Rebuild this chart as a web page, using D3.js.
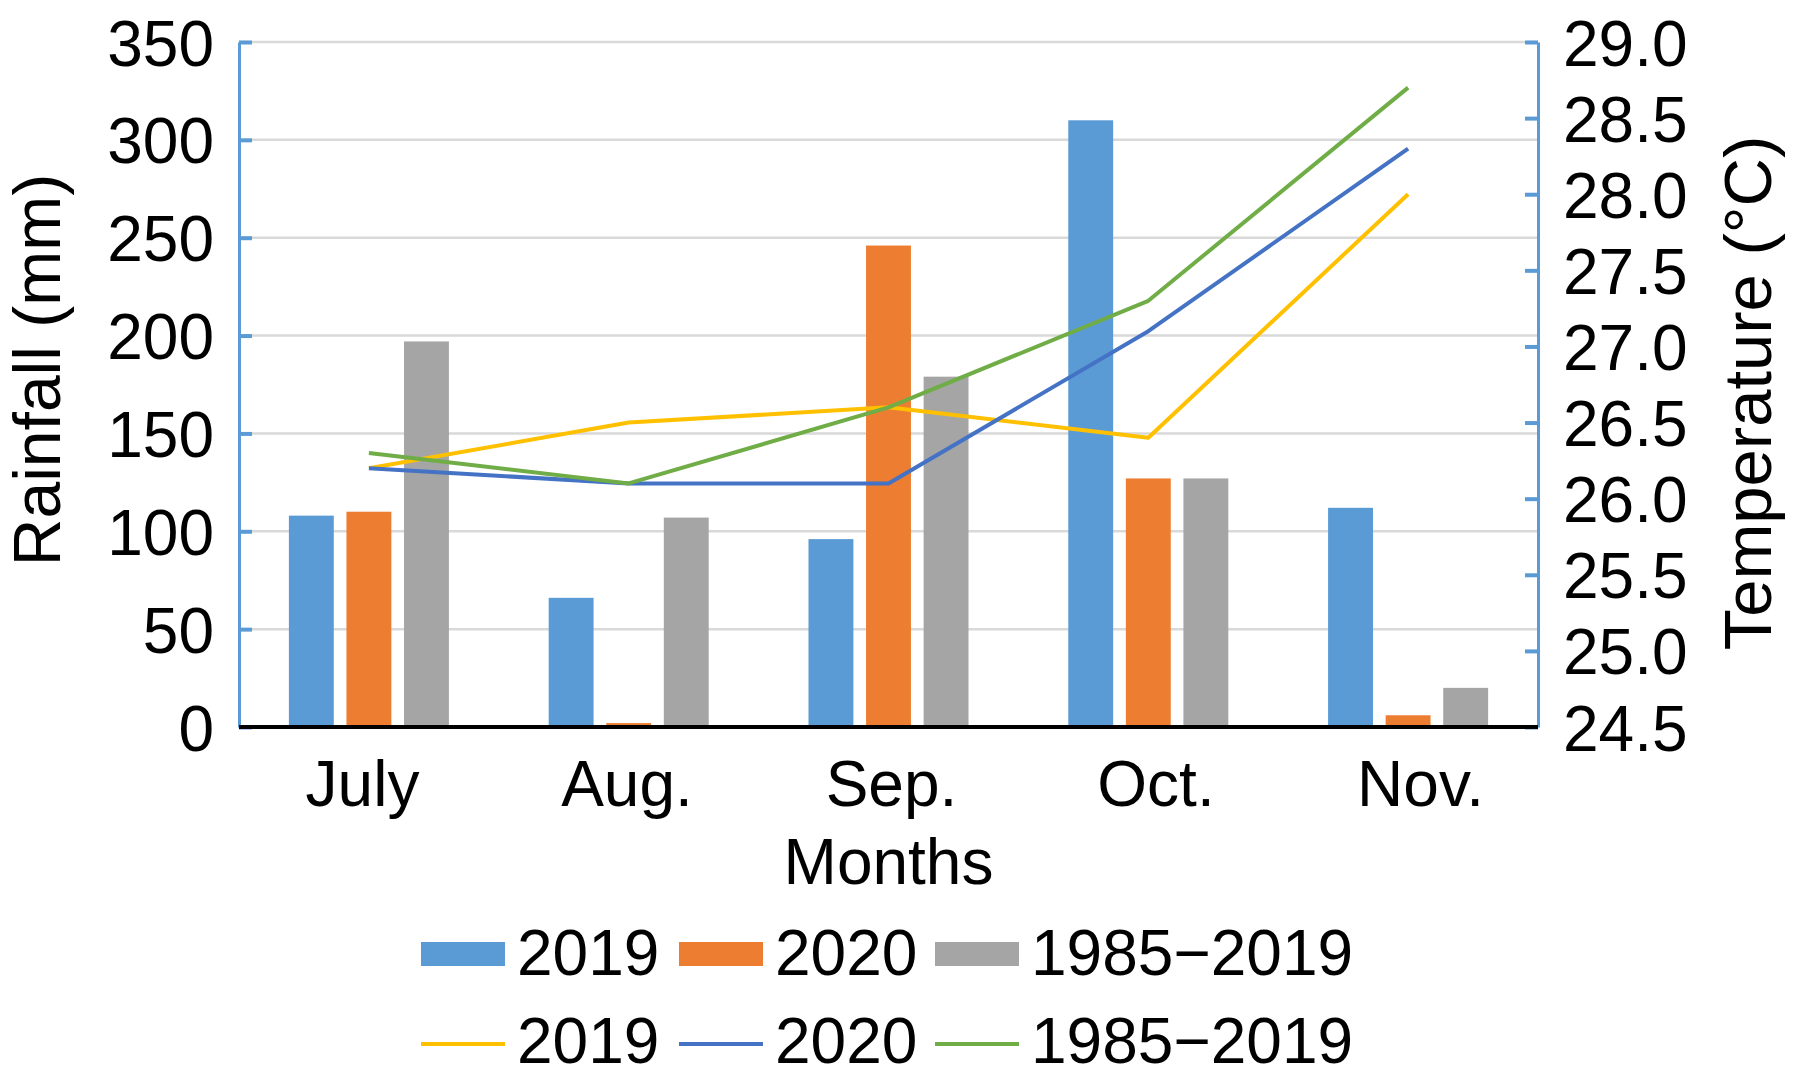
<html>
<script src='https://d3js.org/d3.v7.min.js'></script>
<style>
body { margin: 0; background: #fff; }
svg text { font-family: "Liberation Sans", Arial, sans-serif; fill: #000; }
</style>
<body>
<svg width="1795" height="1087" id="chart"></svg>
<script>
var months = ["July", "Aug.", "Sep.", "Oct.", "Nov."];
var rain2019 = [108, 66, 96, 310, 112];
var rain2020 = [110, 2, 246, 127, 6];
var rainAvg = [197, 107, 179, 127, 20];
var temp2019 = [26.2, 26.5, 26.6, 26.4, 28.0];
var temp2020 = [26.2, 26.1, 26.1, 27.1, 28.3];
var tempAvg = [26.3, 26.1, 26.6, 27.3, 28.7];
var rainTicks = [0, 50, 100, 150, 200, 250, 300, 350];
var tempTicks = [24.5, 25.0, 25.5, 26.0, 26.5, 27.0, 27.5, 28.0, 28.5, 29.0];
var legendNames = ["2019", "2020", "1985\u22122019"];

var barColors = ["#5b9bd5", "#ed7d31", "#a5a5a5"];
var lineColors = ["#ffc000", "#4472c4", "#70ad47"];
var bars = [rain2019, rain2020, rainAvg];
var lines = [temp2019, temp2020, tempAvg];

var L = 239, R = 1538, T = 42, B = 727;
var svg = d3.select("#chart");

var x0 = d3.scaleBand().domain(months).range([L, R]).paddingInner(0.384).paddingOuter(0.192);
var x1 = d3.scaleBand().domain([0, 1, 2]).range([0, x0.bandwidth()]).paddingInner(0.22);
// category labels sit a little wider apart than the bar groups in the original
var xLab = d3.scalePoint().domain(months).range([362, 1420]);
var y = d3.scaleLinear().domain([0, 350]).range([B, T]);
var y2 = d3.scaleLinear().domain([24.5, 29.0]).range([B, T]);

// gridlines
svg.append("g")
  .selectAll("line")
  .data(rainTicks.slice(1))
  .enter()
  .append("line")
  .attr("x1", L).attr("x2", R)
  .attr("y1", function(d) { return y(d); })
  .attr("y2", function(d) { return y(d); })
  .attr("stroke", "#d9d9d9")
  .attr("stroke-width", 2.5);

// bars
bars.forEach(function(series, s) {
  svg.append("g")
    .selectAll("rect")
    .data(series)
    .enter()
    .append("rect")
    .attr("x", function(d, i) { return x0(months[i]) + x1(s); })
    .attr("width", x1.bandwidth())
    .attr("y", function(d) { return y(d); })
    .attr("height", function(d) { return B - y(d); })
    .attr("fill", barColors[s]);
});

// lines
var line = d3.line()
  .x(function(d, i) { return x0(months[i]) + x0.bandwidth() / 2; })
  .y(function(d) { return y2(d); });
lines.forEach(function(series, s) {
  svg.append("path")
    .datum(series)
    .attr("d", line)
    .attr("fill", "none")
    .attr("stroke", lineColors[s])
    .attr("stroke-width", 4)
    .attr("stroke-linejoin", "round");
});

// left axis
var yAxis = svg.append("g")
  .attr("transform", "translate(" + L + ",0)")
  .call(d3.axisLeft(y).tickValues(rainTicks).tickSize(-13).tickPadding(25).tickSizeOuter(0));
yAxis.select(".domain").attr("stroke", "#5b9bd5").attr("stroke-width", 3);
yAxis.selectAll(".tick line").attr("stroke", "#5b9bd5").attr("stroke-width", 4);
yAxis.selectAll("text").style("font-size", "64px").attr("dy", "0.36em");

// right axis
var y2Axis = svg.append("g")
  .attr("transform", "translate(" + R + ",0)")
  .call(d3.axisRight(y2).tickValues(tempTicks).tickFormat(d3.format(".1f")).tickSize(-13).tickPadding(25).tickSizeOuter(0));
y2Axis.select(".domain").attr("stroke", "#5b9bd5").attr("stroke-width", 3);
y2Axis.selectAll(".tick line").attr("stroke", "#5b9bd5").attr("stroke-width", 4);
y2Axis.selectAll("text").style("font-size", "64px").attr("dy", "0.36em");

// x axis: baseline + labels
svg.append("line")
  .attr("x1", L).attr("x2", R)
  .attr("y1", B).attr("y2", B)
  .attr("stroke", "#000").attr("stroke-width", 4);
var xAxis = svg.append("g")
  .attr("transform", "translate(0," + B + ")")
  .call(d3.axisBottom(xLab).tickSize(0).tickPadding(34));
xAxis.select(".domain").remove();
xAxis.selectAll("text").style("font-size", "64px");

// axis titles
svg.append("text")
  .attr("transform", "translate(36,370) rotate(-90)")
  .attr("text-anchor", "middle").attr("dy", "0.36em")
  .style("font-size", "66px")
  .text("Rainfall (mm)");
svg.append("text")
  .attr("transform", "translate(1747,393) rotate(-90)")
  .attr("text-anchor", "middle").attr("dy", "0.36em")
  .style("font-size", "67px")
  .text("Temperature (\u00b0C)");
svg.append("text")
  .attr("x", (L + R) / 2).attr("y", 884)
  .attr("text-anchor", "middle")
  .style("font-size", "64px")
  .text("Months");

// legend
var legX = [421, 679, 935];
var leg = svg.append("g");
legendNames.forEach(function(name, i) {
  leg.append("rect")
    .attr("x", legX[i]).attr("y", 942)
    .attr("width", 84).attr("height", 24)
    .attr("fill", barColors[i]);
  leg.append("text")
    .attr("x", legX[i] + 96).attr("y", 975)
    .style("font-size", "64px")
    .text(name);
  leg.append("line")
    .attr("x1", legX[i]).attr("x2", legX[i] + 84)
    .attr("y1", 1044).attr("y2", 1044)
    .attr("stroke", lineColors[i]).attr("stroke-width", 4);
  leg.append("text")
    .attr("x", legX[i] + 96).attr("y", 1063)
    .style("font-size", "64px")
    .text(name);
});
</script>
</body>
</html>
